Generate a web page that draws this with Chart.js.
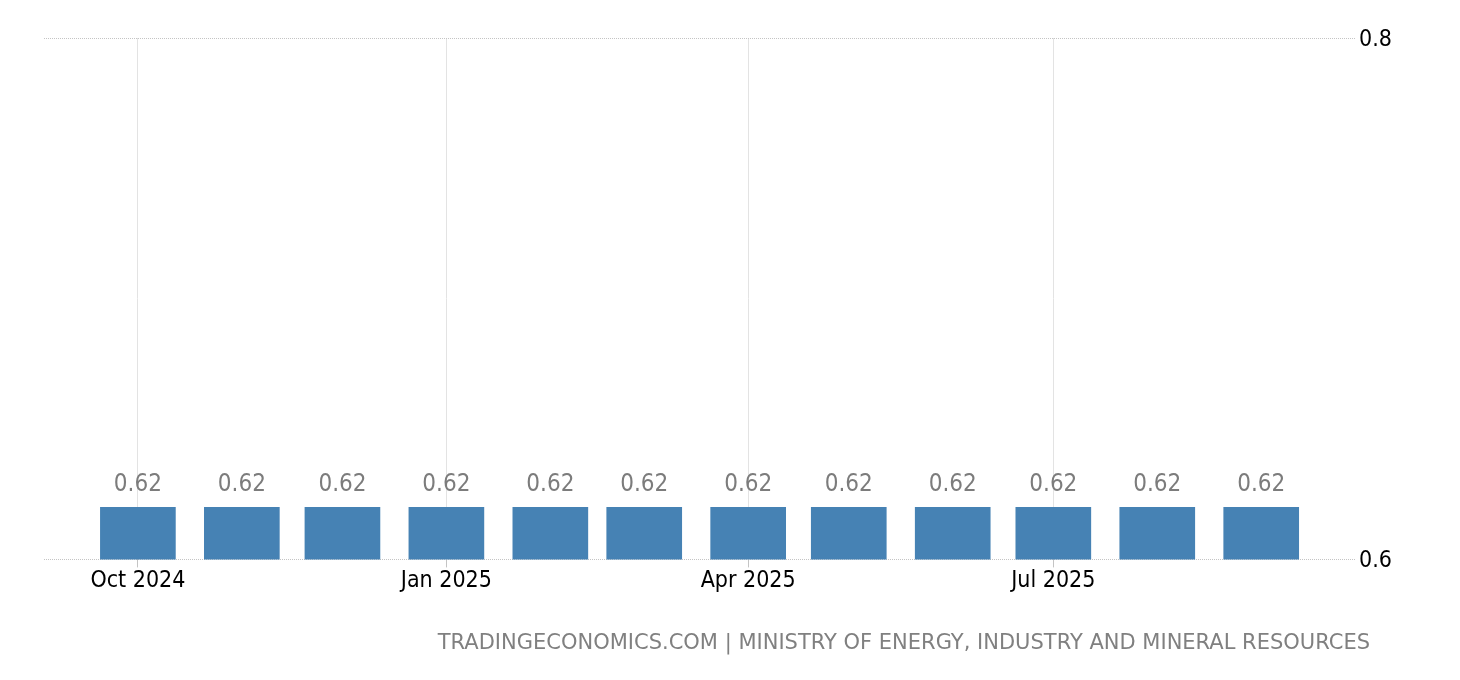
<!DOCTYPE html>
<html>
<head>
<meta charset="utf-8">
<script src="https://cdn.jsdelivr.net/npm/chart.js@4"></script>
<style>
	html, body { margin: 0; padding: 0; background: #fff; }
	#wrap { position: relative; width: 1460px; height: 680px; }
	#source {
		position: absolute;
		right: 90px;
		top: 630px;
		font: 21px "DejaVu Sans", sans-serif;
		color: #808080;
		white-space: nowrap;
	}
</style>
</head>
<body>
<div id="wrap">
	<canvas id="chart-bar" width="1460" height="680"></canvas>
	<div id="source">TRADINGECONOMICS.COM | MINISTRY OF ENERGY, INDUSTRY AND MINERAL RESOURCES</div>
</div>
<script>
// Chart data
const MONTHS = ["2024-10-01", "2024-11-01", "2024-12-01", "2025-01-01", "2025-02-01", "2025-03-01",
	"2025-04-01", "2025-05-01", "2025-06-01", "2025-07-01", "2025-08-01", "2025-09-01"];
const VALUES = [0.62, 0.62, 0.62, 0.62, 0.62, 0.62, 0.62, 0.62, 0.62, 0.62, 0.62, 0.62];
const X_TICK_DATES = ["2024-10-01", "2025-01-01", "2025-04-01", "2025-07-01"];
const X_TICK_LABELS = ["Oct 2024", "Jan 2025", "Apr 2025", "Jul 2025"];
const Y_TICKS = [0.6, 0.8];
const X_RANGE = ["2024-09-03", "2025-09-29"];

const FONT = "'DejaVu Sans Condensed', 'DejaVu Sans', sans-serif";
const DAY = 86400000;
const toDay = (s) => Date.parse(s) / DAY;

const CHART_WRAPPER = document.getElementById("chart-bar");

// Value labels above bars
const valueLabels = {
	id: "valueLabels",
	afterDatasetsDraw(chart) {
		const { ctx } = chart;
		const meta = chart.getDatasetMeta(0);
		ctx.save();
		ctx.font = `24px ${FONT}`;
		ctx.fillStyle = "#7c7c7c";
		ctx.textAlign = "center";
		ctx.textBaseline = "alphabetic";
		meta.data.forEach((bar, i) => {
			ctx.fillText(VALUES[i].toFixed(2), bar.x, bar.y - 16);
		});
		ctx.restore();
	},
};

const DATA = {
	datasets: [
		{
			data: MONTHS.map((m, i) => ({ x: toDay(m), y: VALUES[i] })),
			backgroundColor: "#4682b4",
			borderWidth: 0,
			barThickness: 75,
		},
	],
};

const CONFIG = {
	type: "bar",
	data: DATA,
	options: {
		responsive: false,
		animation: false,
		layout: {
			padding: { left: 44, right: 64, top: 38, bottom: 85 },
		},
		plugins: {
			legend: { display: false },
			title: { display: false },
			tooltip: { enabled: false },
		},
		scales: {
			x: {
				type: "linear",
				offset: false,
				min: toDay(X_RANGE[0]),
				max: toDay(X_RANGE[1]),
				border: { display: false },
				grid: {
					offset: false,
					color: "#e3e3e3",
					tickColor: "#c4c4c4",
					tickLength: 8,
				},
				afterBuildTicks: (axis) => {
					axis.ticks = X_TICK_DATES.map((d) => ({ value: toDay(d) }));
				},
				ticks: {
					padding: 0,
					color: "#000",
					font: { family: FONT, size: 23 },
					maxRotation: 0,
					autoSkip: false,
					callback: (value) => {
						const i = X_TICK_DATES.findIndex((d) => toDay(d) === value);
						return i >= 0 ? X_TICK_LABELS[i] : "";
					},
				},
			},
			y: {
				position: "right",
				min: Y_TICKS[0],
				max: Y_TICKS[Y_TICKS.length - 1],
				border: { display: false, dash: [1, 1] },
				grid: {
					color: "#c4c4c4",
					drawTicks: false,
				},
				afterBuildTicks: (axis) => {
					axis.ticks = Y_TICKS.map((v) => ({ value: v }));
				},
				ticks: {
					padding: 4,
					labelOffset: 2,
					color: "#000",
					font: { family: FONT, size: 23 },
					callback: (value) => value.toFixed(1),
				},
			},
		},
	},
	plugins: [valueLabels],
};

// Init chart
if (CHART_WRAPPER) {
	new Chart(CHART_WRAPPER, CONFIG);
}
</script>
</body>
</html>
